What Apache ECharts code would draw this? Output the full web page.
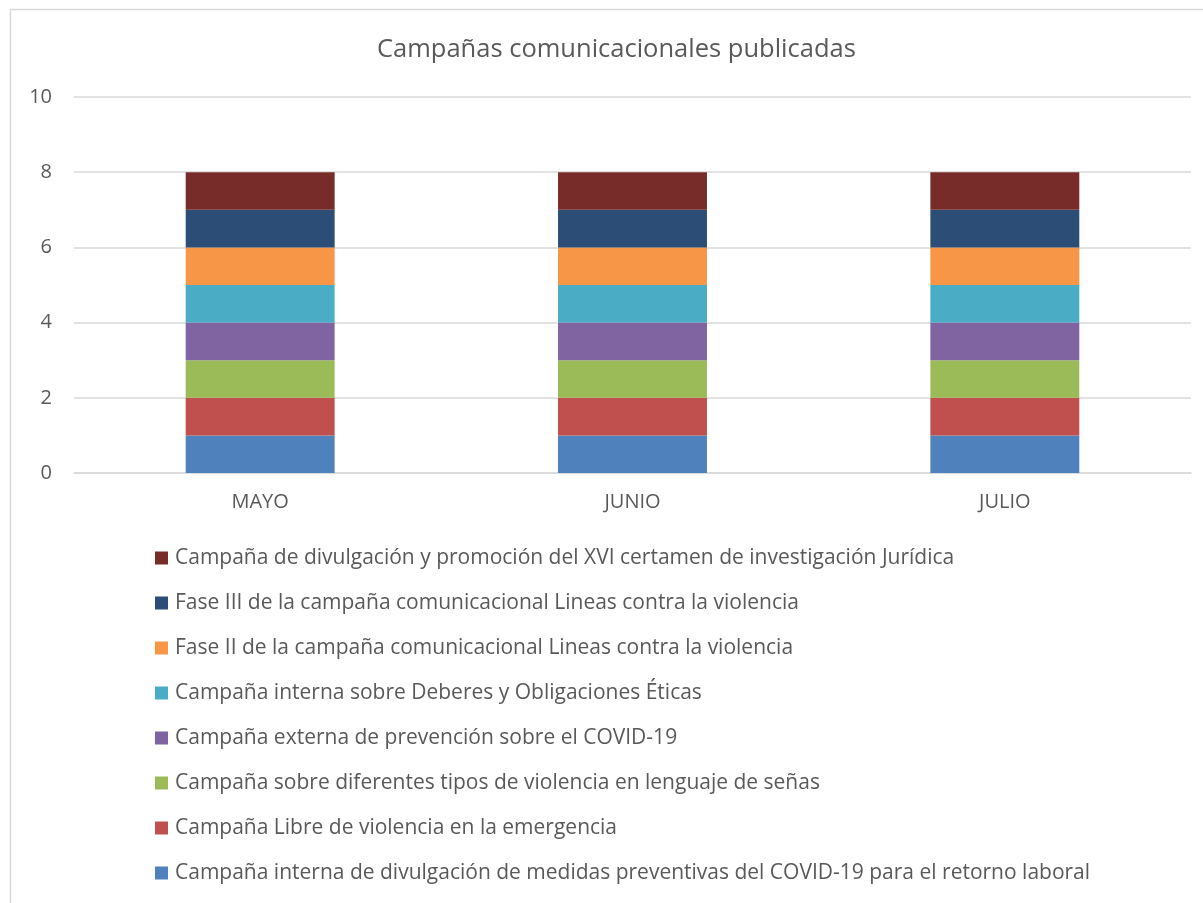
<!DOCTYPE html>
<html>
<head>
<meta charset="utf-8">
<script src="https://cdn.jsdelivr.net/npm/echarts@6/dist/echarts.min.js"></script>
<style>
html,body{margin:0;padding:0;background:#fff;}
#chart{width:1203px;height:903px;}
</style>
</head>
<body>
<div id="chart"></div>
<script>
var months = ['MAYO', 'JUNIO', 'JULIO'];
var campaigns = [
  'Campaña interna de divulgación de medidas preventivas del COVID-19 para el retorno laboral',
  'Campaña Libre de violencia en la emergencia',
  'Campaña sobre diferentes tipos de violencia en lenguaje de señas',
  'Campaña externa de prevención sobre el COVID-19',
  'Campaña interna sobre Deberes y Obligaciones Éticas',
  'Fase II de la campaña comunicacional Lineas contra la violencia',
  'Fase III de la campaña comunicacional Lineas contra la violencia',
  'Campaña de divulgación y promoción del XVI certamen de investigación Jurídica'
];
// una fila por campaña, valores por mes
var c1 = [1, 1, 1];
var c2 = [1, 1, 1];
var c3 = [1, 1, 1];
var c4 = [1, 1, 1];
var c5 = [1, 1, 1];
var c6 = [1, 1, 1];
var c7 = [1, 1, 1];
var c8 = [1, 1, 1];
var values = [c1, c2, c3, c4, c5, c6, c7, c8];
var colors = ['#4F81BD', '#C0504D', '#9BBB59', '#8064A2', '#4BACC6', '#F79646', '#2C4D75', '#772C2A'];

var font = '"Open Sans", sans-serif';
var chart = echarts.init(document.getElementById('chart'));

var series = campaigns.map(function (name, i) {
  return {
    name: name,
    type: 'bar',
    stack: 'total',
    data: values[i],
    barCategoryGap: '60%',
    itemStyle: {color: colors[i]}
  };
});

chart.setOption({
  color: colors,
  animation: false,
  graphic: [{
    type: 'rect',
    shape: {x: 10.5, y: 9.5, width: 1200, height: 900},
    style: {fill: 'none', stroke: '#d9d9d9', lineWidth: 1.5}
  }],
  title: {
    text: 'Campañas comunicacionales publicadas',
    left: 372,
    top: 32,
    textStyle: {fontFamily: font, fontSize: 25.5, fontWeight: 'normal', color: '#595959'}
  },
  grid: {left: 74, right: 12, top: 97, bottom: 430, containLabel: false},
  legend: {
    orient: 'vertical',
    left: 150,
    top: 542,
    itemWidth: 13,
    itemHeight: 13,
    itemGap: 23,
    icon: 'rect',
    data: campaigns.slice().reverse(),
    textStyle: {fontFamily: font, fontSize: 21, color: '#595959', lineHeight: 22, padding: [0, 0, 0, 2]}
  },
  xAxis: {
    type: 'category',
    data: months,
    axisLine: {lineStyle: {color: '#d9d9d9', width: 1.5}},
    axisTick: {show: false},
    axisLabel: {fontFamily: font, fontSize: 20, color: '#595959', margin: 19}
  },
  yAxis: {
    type: 'value',
    min: 0,
    max: 10,
    interval: 2,
    axisLine: {show: false},
    axisTick: {show: false},
    splitLine: {lineStyle: {color: '#d9d9d9', width: 1.5}},
    axisLabel: {fontFamily: font, fontSize: 20, color: '#595959', margin: 22}
  },
  series: series
});
</script>
</body>
</html>
